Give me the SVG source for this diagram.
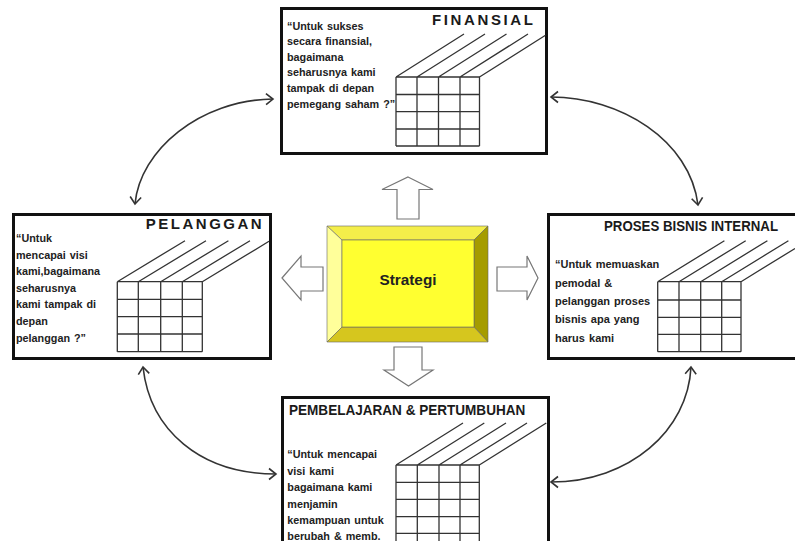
<svg xmlns="http://www.w3.org/2000/svg" width="795" height="541" viewBox="0 0 795 541">
<defs>
<style>
.box{fill:#fff;stroke:#111;stroke-width:3}
.grid{stroke:#333;stroke-width:1.3;fill:none}
.body{font-family:"Liberation Sans",Arial,sans-serif;font-weight:bold;font-size:10.8px;fill:#222;word-spacing:1px}
.title{font-family:"Liberation Sans",Arial,sans-serif;font-weight:bold;font-size:15px;fill:#1a1a1a}
.blk{fill:#fff;stroke:#777;stroke-width:1.2}
.curve{fill:none;stroke:#333;stroke-width:1.6}
</style>
<marker id="ah" markerUnits="userSpaceOnUse" markerWidth="16" markerHeight="16" refX="0" refY="0" viewBox="-10 -8 12 16" orient="auto-start-reverse">
<path d="M-7,-5.5 L0,0 L-7,5.5" fill="none" stroke="#333" stroke-width="1.6"/>
</marker>
</defs>
<rect width="795" height="541" fill="#fff"/>

<g id="connectors">
<path class="curve" d="M273,99 C200,100 140,150 135,204" marker-start="url(#ah)" marker-end="url(#ah)"/>
<path class="curve" d="M551,97 C620,97 690,140 698,205" marker-start="url(#ah)" marker-end="url(#ah)"/>
<path class="curve" d="M143,367 C150,430 200,474 276,474" marker-start="url(#ah)" marker-end="url(#ah)"/>
<path class="curve" d="M691,367 C688,430 630,482 551,482" marker-start="url(#ah)" marker-end="url(#ah)"/>
<polygon class="blk" points="408,177 433,189.5 419,189.5 419,219 397,219 397,189.5 382,189.5"/>
<polygon class="blk" points="394,347 422,347 422,370 433,370 408.5,386 384,370 394,370"/>
<polygon class="blk" points="282,278 301,256 301,267 323,267 323,291 301,291 301,300"/>
<polygon class="blk" points="497,267 527,267 527,256 538,278 527,300 527,291 497,291"/>
</g>

<g id="strategi">
<polygon points="327,226 488,226 474,240 342,240" fill="#f4ee4a" stroke="#666" stroke-width="0.6"/>
<polygon points="327,226 342,240 342,327 327,342" fill="#ffff9a" stroke="#666" stroke-width="0.6"/>
<polygon points="488,226 488,342 474,327 474,240" fill="#a59c00" stroke="#666" stroke-width="0.6"/>
<polygon points="327,342 488,342 474,327 342,327" fill="#d6c61e" stroke="#666" stroke-width="0.6"/>
<rect x="342" y="240" width="132" height="87" fill="#ffff30" stroke="#666" stroke-width="0.6"/>
<text x="408" y="285" text-anchor="middle" font-family="'Liberation Sans',Arial,sans-serif" font-weight="bold" font-size="15.5" fill="#222" textLength="57" lengthAdjust="spacingAndGlyphs">Strategi</text>
</g>

<g id="finansial">
<rect class="box" x="281.5" y="8.5" width="265" height="145"/>
<text class="title" x="432" y="25" textLength="101" lengthAdjust="spacing">FINANSIAL</text>
<path class="grid" d="M396,77 H479.5 M396,94.5 H479.5 M396,111.7 H479.5 M396,129 H479.5 M396,146 H479.5 M396,77 V146 M417,77 V146 M438.5,77 V146 M460,77 V146 M479.5,77 V146 M396,77 l68,-43 M417,77 l68,-43 M438.5,77 l68,-43 M460,77 l68,-43 M479.5,77 L545.5,35.3"/>
<text class="body" x="287"><tspan x="287" y="29.5">“Untuk sukses</tspan><tspan x="287" y="45">secara finansial,</tspan><tspan x="287" y="60.7">bagaimana</tspan><tspan x="287" y="76.3">seharusnya kami</tspan><tspan x="287" y="92">tampak di depan</tspan><tspan x="287" y="107.5">pemegang saham ?”</tspan></text>
</g>

<g id="pelanggan">
<rect class="box" x="13.5" y="214.5" width="257" height="144"/>
<text class="title" x="145.7" y="229" textLength="116" lengthAdjust="spacing">PELANGGAN</text>
<path class="grid" d="M117.3,281.7 H202.3 M117.3,299.3 H202.3 M117.3,316.7 H202.3 M117.3,334 H202.3 M117.3,351.7 H202.3 M117.3,281.7 V351.7 M138.3,281.7 V351.7 M160.7,281.7 V351.7 M182.3,281.7 V351.7 M202.3,281.7 V351.7 M117.3,281.7 l67.7,-41 M138.3,281.7 l67.7,-41 M160.7,281.7 l67.7,-41 M182.3,281.7 l67.7,-41 M202.3,281.7 L269,241.3"/>
<text class="body"><tspan x="16" y="242">“Untuk</tspan><tspan x="16" y="258.5">mencapai  visi</tspan><tspan x="16" y="275">kami,bagaimana</tspan><tspan x="16" y="291.7">seharusnya</tspan><tspan x="16" y="308">kami tampak  di</tspan><tspan x="16" y="325">depan</tspan><tspan x="16" y="341.7">pelanggan  ?”</tspan></text>
</g>

<g id="proses">
<rect class="box" x="548.5" y="214.5" width="249" height="144"/>
<text class="title" transform="translate(604,231) scale(0.885,1)" x="0" y="0" font-size="16.5">PROSES BISNIS INTERNAL</text>
<path class="grid" d="M657.7,281.7 H741 M657.7,300 H741 M657.7,317.3 H741 M657.7,334.3 H741 M657.7,351.7 H741 M657.7,281.7 V351.7 M679,281.7 V351.7 M700.7,281.7 V351.7 M721.7,281.7 V351.7 M741,281.7 V351.7 M657.7,281.7 l66.7,-41 M679,281.7 l66.7,-41 M700.7,281.7 l66.7,-41 M721.7,281.7 l66.7,-41 M741,281.7 L795,248.5"/>
<text class="body" style="font-size:11px"><tspan x="555" y="268.3">“Untuk memuaskan</tspan><tspan x="555" y="287">pemodal  &amp;</tspan><tspan x="555" y="305">pelanggan  proses</tspan><tspan x="555" y="323">bisnis apa yang</tspan><tspan x="555" y="341.5">harus kami</tspan></text>
</g>

<g id="pembelajaran">
<rect class="box" x="282.5" y="397.5" width="266" height="150"/>
<text class="title" transform="translate(289,415) scale(0.904,1)" x="0" y="0" font-size="16.5">PEMBELAJARAN &amp; PERTUMBUHAN</text>
<path class="grid" d="M396,465 H479.3 M396,482.3 H479.3 M396,499.3 H479.3 M396,516.7 H479.3 M396,533.3 H479.3 M396,465 V541 M417.3,465 V541 M439,465 V541 M460,465 V541 M479.3,465 V541 M396,465 l67,-42 M417.3,465 l67,-42 M439,465 l67,-42 M460,465 l67,-42 M479.3,465 l67,-42"/>
<text class="body"><tspan x="287.3" y="458">“Untuk mencapai</tspan><tspan x="287.3" y="474.5">visi kami</tspan><tspan x="287.3" y="491">bagaimana  kami</tspan><tspan x="287.3" y="507.5">menjamin</tspan><tspan x="287.3" y="524">kemampuan  untuk</tspan><tspan x="287.3" y="539.5">berubah  &amp; memb.</tspan></text>
</g>
</svg>
